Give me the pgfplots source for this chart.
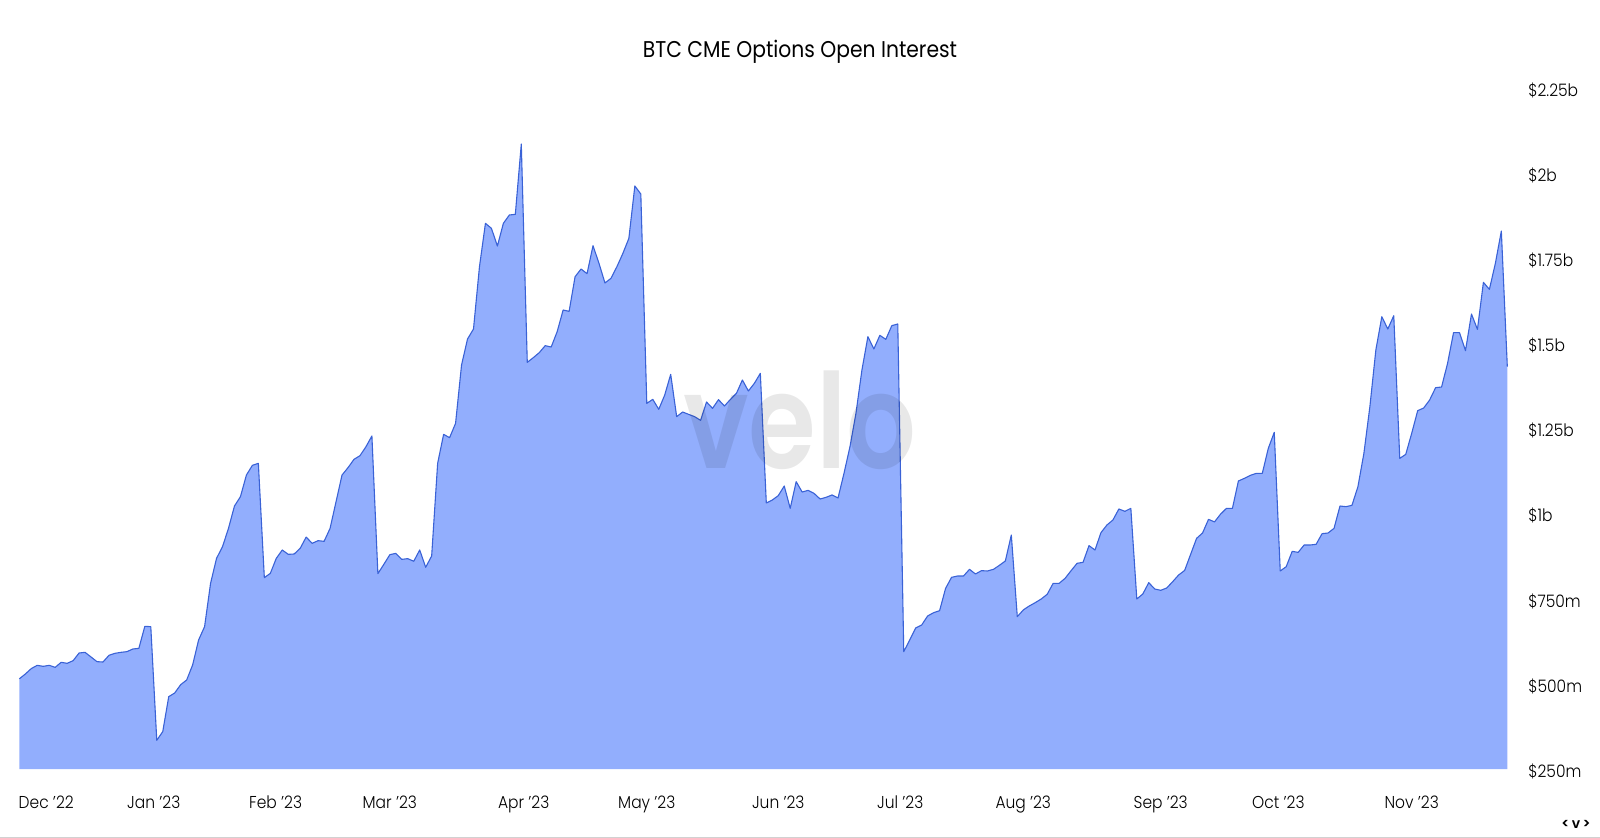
\documentclass[border=0pt]{standalone}
\usepackage{fontspec}
\setmainfont[FakeStretch=0.9]{Poppins Light}
\newfontfamily\titlefont[FakeStretch=0.89]{Poppins}
\newfontfamily\velofont[FakeStretch=0.83]{Poppins SemiBold}
\newfontfamily\boldfont{Poppins SemiBold}
\usepackage{pgfplots}
\usepackage{pgfplotstable}
\pgfplotsset{compat=1.18}
\definecolor{areafill}{HTML}{92AEFD}
\definecolor{arealine}{HTML}{3A62D6}
\pgfplotstableread{
i v
0 522
1 536
2 552
3 561.6
4 558.6
5 561.6
6 555.7
7 570.4
8 567.4
9 575.2
10 597.7
11 599.7
12 586
13 572.3
14 571.3
15 590.9
16 596.8
17 599.7
18 601.7
19 609.5
20 611.4
21 676
22 675
23 341.5
24 367
25 469.6
26 480.4
27 504.8
28 518.5
29 562.5
30 636
31 675
32 802
33 875.5
34 909.8
35 963.6
36 1029
37 1056.5
38 1120
39 1148.5
40 1154.3
41 818.8
42 831.5
43 875.5
44 900
45 887.3
46 888.3
47 905
48 938
49 919.6
50 927.4
51 925.4
52 963.6
53 1041.8
54 1120
55 1141.6
56 1166
57 1176.8
58 1203
59 1234.6
60 830.6
61 858
62 886.3
63 890.2
64 872.6
65 874.6
66 866.9
67 900
68 849.3
69 882.4
70 1154.3
71 1239.4
72 1229.6
73 1271.7
74 1442.9
75 1519.2
76 1548.6
77 1731.5
78 1858.7
79 1844
80 1792.1
81 1858.7
82 1883.1
83 1885.1
84 2091.5
85 1450.7
86 1464.4
87 1479.1
88 1499.7
89 1495.7
90 1540.7
91 1604.3
92 1600.4
93 1702.1
94 1724.6
95 1711
96 1793.1
97 1741.3
98 1683.6
99 1697.2
100 1731.5
101 1770.6
102 1814.6
103 1968.2
104 1944.7
105 1330.4
106 1342.2
107 1312.8
108 1354.9
109 1415.5
110 1291.3
111 1305
112 1298.1
113 1291.3
114 1280.5
115 1334.3
116 1315.7
117 1341.2
118 1322.6
119 1342.2
120 1359.8
121 1398.9
122 1366.6
123 1389.1
124 1418.5
125 1038
126 1046.7
127 1059.5
128 1087.8
129 1022.3
130 1100.6
131 1070.2
132 1075.1
133 1066
134 1049.7
135 1054.6
136 1061.5
137 1052.6
138 1125
139 1203.3
140 1301
141 1428.3
142 1526.1
143 1489.9
144 1530
145 1518.3
146 1558.4
147 1563.3
148 601.7
149 635.9
150 671.1
151 680
152 706.4
153 716.1
154 722
155 787.5
156 819.8
157 823.7
158 823.7
159 843.3
160 829.6
161 839.4
162 838.4
163 843.3
164 855
165 867.8
166 944
167 704.4
168 724
169 735.7
170 745.5
171 756.2
172 770
173 802.2
174 802.2
175 816.9
176 839.4
177 860.9
178 863.8
179 912.8
180 900
181 951
182 973.4
183 988
184 1020.4
185 1013.5
186 1022.3
187 756.2
188 770.9
189 804.2
190 785.6
191 781.7
192 788.5
193 807.1
194 826.7
195 840
196 887
197 934.2
198 950
199 990
200 982.5
201 1005
202 1022.3
203 1022.3
204 1102.5
205 1110.3
206 1119.1
207 1125
208 1125
209 1198.3
210 1245.3
211 838.4
212 851.1
213 896.1
214 893.1
215 914.7
216 914.7
217 916.6
218 947.9
219 949.9
220 963.5
221 1029.1
222 1027.2
223 1031.1
224 1085.8
225 1183.7
226 1320.6
227 1486.9
228 1584.7
229 1548.5
230 1587.7
231 1169
232 1180.7
233 1242.4
234 1308.9
235 1316.7
236 1340.2
237 1376.4
238 1378.4
239 1447.8
240 1537.8
241 1537.8
242 1484.9
243 1592.6
244 1547.5
245 1685.5
246 1664.9
247 1741.2
248 1836.1
249 1438
}\oi
\begin{document}
\begin{tikzpicture}[x=1pt,y=1pt]
\useasboundingbox (0,0) rectangle (800,419);
\begin{axis}[
  at={(9.665pt,33.25pt)},anchor=south west,
  scale only axis,width=743.985pt,height=340.75pt,
  xmin=0,xmax=249,ymin=250,ymax=2250,
  axis line style={draw=none},
  tick style={draw=none},
  clip=false,
  axis y line*=right,
  ytick={250,500,750,1000,1250,1500,1750,2000,2250},
  yticklabels={\$250m,\$500m,\$750m,\$1b,\$1.25b,\$1.5b,\$1.75b,\$2b,\$2.25b},
  yticklabel style={anchor=west,xshift=7pt,font=\fontsize{8.6}{10}\selectfont},
  xtick={4.5,22.5,42.9,62,84.4,105,127,147.4,168,191,210.7,233},
  xticklabels={Dec '22,Jan '23,Feb '23,Mar '23,Apr '23,May '23,Jun '23,Jul '23,Aug '23,Sep '23,Oct '23,Nov '23},
  xticklabel style={anchor=base,yshift=-18.5pt,font=\fontsize{8.6}{10}\selectfont},
]
\addplot[fill=areafill,draw=none,forget plot] table[x=i,y=v]{\oi} -- (axis cs:249,257.3) -- (axis cs:0,257.3) -- cycle;
\addplot[arealine,line width=0.55pt,line join=round,forget plot] table[x=i,y=v]{\oi};
\end{axis}
\node[anchor=base,font=\fontsize{11.4}{13}\titlefont] at (400,390) {BTC CME Options Open Interest};
\node[anchor=center,opacity=.09,font=\fontsize{66}{70}\velofont] at (400,209) {velo};
\node[anchor=center,font=\fontsize{7}{8}\boldfont] at (788,7) {<\hspace{1.2pt}v\hspace{1.2pt}>};
\draw[black!18,line width=0.5pt] (0,0.4) -- (800,0.4);
\end{tikzpicture}
\end{document}
